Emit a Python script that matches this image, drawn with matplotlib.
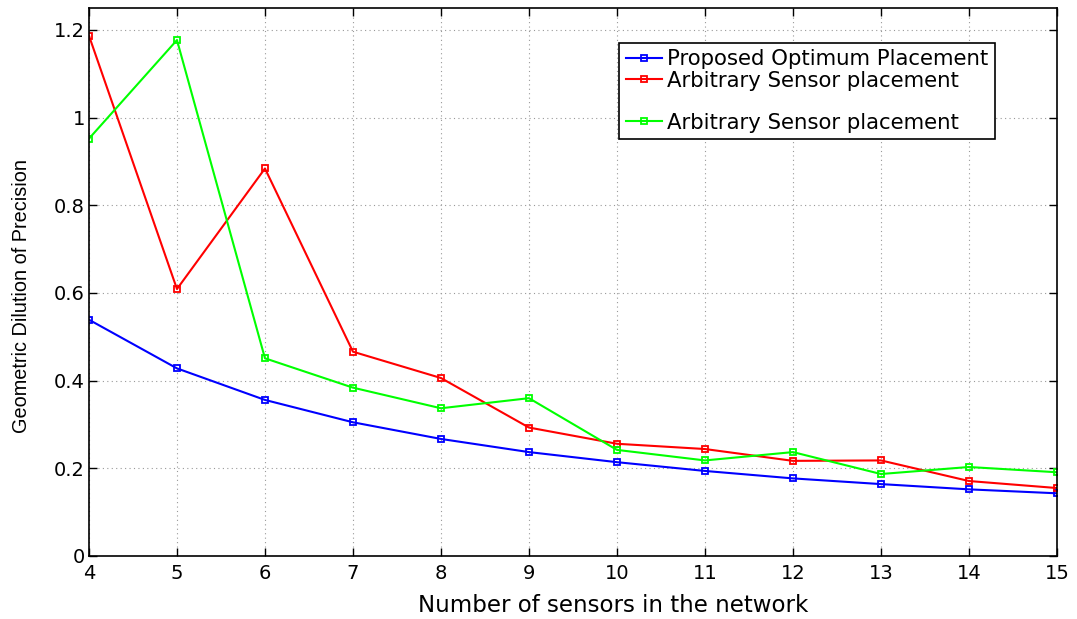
import numpy as np
import matplotlib
matplotlib.use('Agg')
import matplotlib.pyplot as plt
from matplotlib.lines import Line2D

# Data
sensors = [4, 5, 6, 7, 8, 9, 10, 11, 12, 13, 14, 15]
gdop_optimum = [0.539, 0.428, 0.356, 0.305, 0.267, 0.237, 0.214, 0.194, 0.177, 0.164, 0.152, 0.143]
gdop_arbitrary1 = [1.187, 0.609, 0.884, 0.466, 0.406, 0.293, 0.256, 0.244, 0.217, 0.218, 0.171, 0.155]
gdop_arbitrary2 = [0.952, 1.177, 0.451, 0.384, 0.337, 0.360, 0.242, 0.218, 0.237, 0.187, 0.203, 0.191]

labels = ['Proposed Optimum Placement', 'Arbitrary Sensor placement', 'Arbitrary Sensor placement']
xticks = list(range(4, 16))
yticks = [0, 0.2, 0.4, 0.6, 0.8, 1.0, 1.2]
ytick_labels = ['0', '0.2', '0.4', '0.6', '0.8', '1', '1.2']

plt.rcParams['font.family'] = ['DejaVu Sans']

fig = plt.figure(figsize=(10.77, 6.19), dpi=100)
ax = fig.add_axes([0.0826, 0.1018, 0.8988, 0.8852])

line_style = dict(marker='s', markersize=5, markerfacecolor='none', linewidth=1.5, markeredgewidth=1.3)
l1, = ax.plot(sensors, gdop_optimum, color=(0, 0, 1), **line_style)
l2, = ax.plot(sensors, gdop_arbitrary1, color=(1, 0, 0), **line_style)
l3, = ax.plot(sensors, gdop_arbitrary2, color=(0, 1, 0), **line_style)

ax.set_xlim(4, 15)
ax.set_ylim(0, 1.25)
ax.set_xticks(xticks)
ax.set_yticks(yticks)
ax.set_yticklabels(ytick_labels)
ax.tick_params(direction='in', top=True, right=True, labelsize=14, length=6, width=1)
ax.tick_params(axis='x', pad=6)
ax.tick_params(axis='y', pad=3)
ax.grid(True, linestyle=(0, (1, 3)), color='#999999', linewidth=0.8)
for s in ax.spines.values():
    s.set_linewidth(1.2)

ax.set_xlabel('Number of sensors in the network', fontsize=16.5, va='center')
ax.xaxis.set_label_coords(0.542, -0.091)
ax.set_ylabel('Geometric Dilution of Precision', fontsize=14.3,
              family=['Liberation Sans', 'DejaVu Sans'], va='center')
ax.yaxis.set_label_coords(-0.070, 0.474)

# legend with a blank row between the second and third entries, as in the original
blank = Line2D([], [], linestyle='none')
leg = ax.legend([l1, l2, blank, l3], [labels[0], labels[1], ' ', labels[2]],
                loc='upper left', bbox_to_anchor=(0.548, 0.936), fontsize=15.3,
                frameon=True, fancybox=False, edgecolor='black', framealpha=1,
                handlelength=1.7, handletextpad=0.25, labelspacing=0.05, borderpad=0.3,
                borderaxespad=0)
leg.get_frame().set_linewidth(1.2)

fig.savefig('out.png', dpi=100)
